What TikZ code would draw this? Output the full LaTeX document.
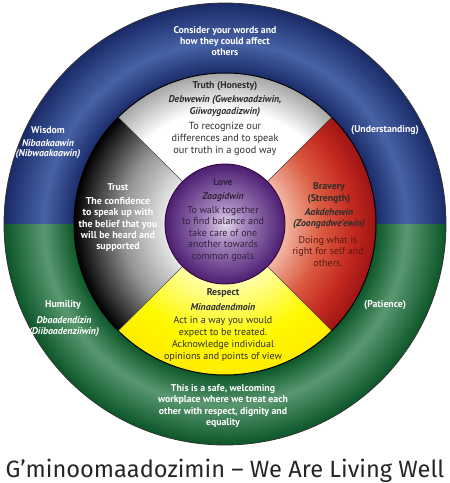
\documentclass[tikz,border=0pt]{standalone}
\usepackage{fontspec}
\setmainfont{PT Sans}
\newfontfamily\titlefont{Fira Sans}
\definecolor{blueD}{HTML}{1A2A68}
\definecolor{blueL}{HTML}{4763A6}
\definecolor{greenD}{HTML}{0B5629}
\definecolor{greenL}{HTML}{5A9770}
\definecolor{txtDark}{HTML}{2E2E2E}
\definecolor{txtRed}{HTML}{5A1A14}
\definecolor{txtPurple}{HTML}{34243E}
\definecolor{redA}{HTML}{F2B4A0}
\definecolor{redB}{HTML}{DA5A40}
\definecolor{redC}{HTML}{C42A20}
\definecolor{redD}{HTML}{9E1414}
\definecolor{purA}{HTML}{E4D8EC}
\definecolor{purB}{HTML}{A586BE}
\definecolor{purC}{HTML}{4C1E72}
% circle radius corresponds to 25bp
\pgfdeclareradialshading{blueRing}{\pgfpointorigin}{color(0bp)=(blueD); color(17bp)=(blueD); color(20.5bp)=(blueL); color(25bp)=(blueD); color(50bp)=(blueD)}
\pgfdeclareradialshading{greenRing}{\pgfpointorigin}{color(0bp)=(greenD); color(17bp)=(greenD); color(20.5bp)=(greenL); color(25bp)=(greenD); color(50bp)=(greenD)}
\pgfdeclareradialshading{whiteSec}{\pgfpointorigin}{color(0bp)=(white); color(19bp)=(white); color(25bp)=(black!35); color(50bp)=(black!35)}
\pgfdeclareradialshading{graySec}{\pgfpointorigin}{color(0bp)=(black!6); color(10bp)=(black!10); color(17bp)=(black!42); color(25bp)=(black); color(50bp)=(black)}
\pgfdeclareradialshading{redSec}{\pgfpointorigin}{color(0bp)=(redA); color(10bp)=(redA); color(16bp)=(redB); color(21bp)=(redC); color(25bp)=(redD); color(50bp)=(redD)}
\pgfdeclareradialshading{yellowSec}{\pgfpointorigin}{color(0bp)=(yellow!20!white); color(10bp)=(yellow!35!white); color(19bp)=(yellow!95!orange); color(25bp)=(yellow!85!orange); color(50bp)=(yellow!85!orange)}
\pgfdeclareradialshading{purpleSec}{\pgfpointorigin}{color(0bp)=(purA); color(8bp)=(purB); color(25bp)=(purC); color(50bp)=(purC)}
\tikzset{
  txt/.style={inner sep=0pt, align=center, font=\fontsize{10}{11.5}\selectfont},
  wtxt/.style={txt, text=white, font=\fontsize{9.8}{11.4}\selectfont\bfseries},
  head/.style={txt, font=\fontsize{9.8}{11.5}\selectfont\bfseries},
  nm/.style={txt, font=\fontsize{9.8}{11.5}\selectfont\bfseries\itshape},
  sep/.style={draw=black!70, line width=0.6pt}
}
\begin{document}
\begin{tikzpicture}[x=1pt,y=1pt]
\useasboundingbox (-225,-259) rectangle (225,224);
% outer ring
\begin{scope}
  \clip (-222,0) rectangle (222,222);
  \shade[shading=blueRing] (0,0) circle (221);
\end{scope}
\begin{scope}
  \clip (-222,0) rectangle (222,-222);
  \shade[shading=greenRing] (0,0) circle (221);
\end{scope}
\draw[black!80, line width=0.8pt] (0,0) circle (221);
% sectors
\begin{scope}
  \clip (0,0) -- (45:151) arc (45:135:151) -- cycle;
  \shade[shading=whiteSec] (0,0) circle (151);
\end{scope}
\begin{scope}
  \clip (0,0) -- (135:151) arc (135:225:151) -- cycle;
  \shade[shading=graySec] (0,0) circle (151);
\end{scope}
\begin{scope}
  \clip (0,0) -- (-45:151) arc (-45:45:151) -- cycle;
  \shade[shading=redSec] (0,0) circle (151);
\end{scope}
\begin{scope}
  \clip (0,0) -- (225:151) arc (225:315:151) -- cycle;
  \shade[shading=yellowSec] (0,0) circle (151);
\end{scope}
\draw[sep] (45:151) -- (225:151);
\draw[sep] (135:151) -- (315:151);
\draw[black, line width=1pt] (0,0) circle (151);
\shade[shading=purpleSec] (0,0) circle (60);
\draw[black!60!violet, line width=0.8pt] (0,0) circle (60);
% texts
\node[wtxt] (consider) at (0,183) {Consider your words and\\how they could affect\\others};
\node[head, text=txtDark] (truthH) at (0,138) {Truth (Honesty)};
\node[nm, text=txtDark] (truthN) at (0,118) {Debwewin (Gwekwaadziwin,\\Giiwaygaadizwin)};
\node[txt, text=txtDark, font=\fontsize{10.3}{12}\selectfont] (truthB) at (0,85) {To recognize our\\differences and to speak\\our truth in a good way};
\node[head, text=white] (wisH) at (-177,94) {Wisdom};
\node[nm, text=white, font=\fontsize{9.8}{10.5}\selectfont\bfseries\itshape] (wisN) at (-177,75) {Nibaakaawin\\(Nibwaakaawin)};
\node[head, text=white] (und) at (160,94) {(Understanding)};
\node[head, text=white] (trustH) at (-107,37) {Trust};
\node[wtxt, font=\fontsize{10}{11.3}\selectfont\bfseries] (trustB) at (-107,-0.5) {The confidence\\to speak up with\\the belief that you\\will be heard and\\supported};
\node[head, text=txtPurple] (loveH) at (-2,42) {Love};
\node[nm, text=txtPurple] (loveN) at (-2,27) {Zaagidwin};
\node[txt, text=txtPurple, font=\fontsize{10}{11.5}\selectfont] (loveB) at (-2,-10) {To walk together\\to find balance and\\take care of one\\another towards\\common goals};
\node[head, text=txtDark] (bravH) at (104,31) {Bravery\\(Strength)};
\node[nm, text=txtDark] (bravN) at (104,5.5) {Aakdehewin\\(Zoongadwe’ewin)};
\node[txt, text=txtRed, font=\fontsize{10}{11.5}\selectfont] (bravB) at (103,-27.5) {Doing what is\\right for self and\\others.};
\node[head, text=txtDark] (respH) at (-2,-69) {Respect};
\node[nm, text=txtDark] (respN) at (-2,-83) {Minaadendmoin};
\node[txt, text=txtDark, font=\fontsize{10}{12}\selectfont] (respB) at (-2,-115) {Act in a way you would\\expect to be treated.\\Acknowledge individual\\opinions and points of view};
\node[head, text=white] (humH) at (-162,-81) {Humility};
\node[nm, text=white, font=\fontsize{9.8}{10.5}\selectfont\bfseries\itshape] (humN) at (-161,-102.5) {Dbaadendizin\\(Diibaadenziiwin)};
\node[head, text=white] (pat) at (160,-81) {(Patience)};
\node[wtxt] (safe) at (-2,-182) {This is a safe, welcoming\\workplace where we treat each\\other with respect, dignity and\\equality};
\node[inner sep=0pt, anchor=base, font=\titlefont\fontsize{23.6}{26}\selectfont, text=black!85] (title) at (0,-253) {G’minoomaadozimin – We Are Living Well};
\end{tikzpicture}
\end{document}
